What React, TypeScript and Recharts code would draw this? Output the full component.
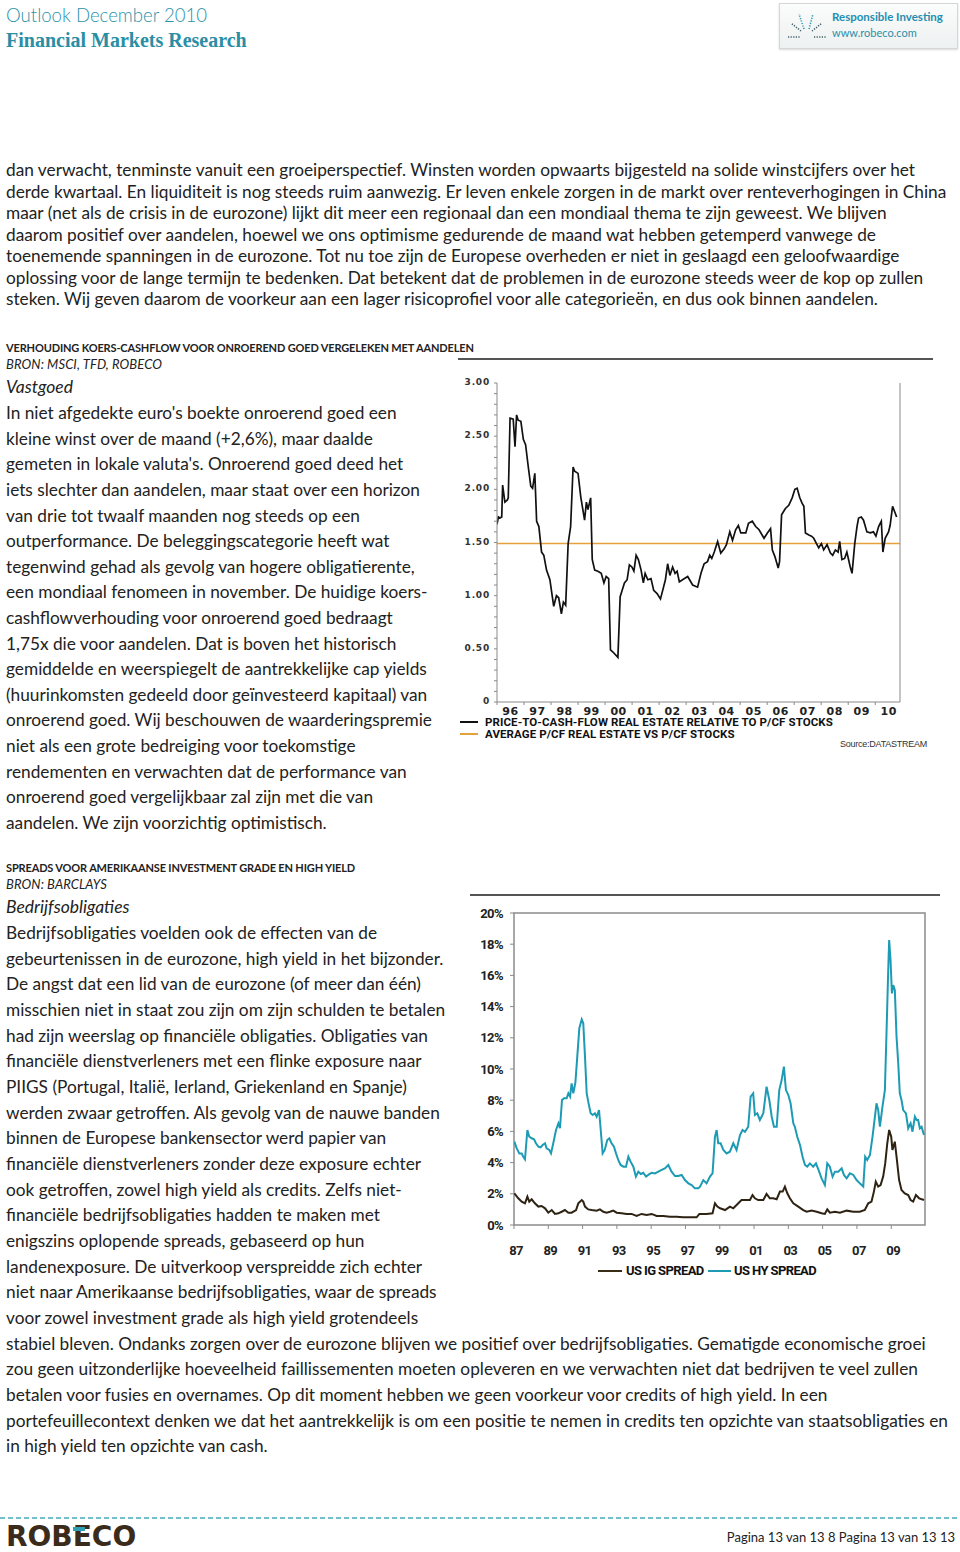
import React from "react";
import { LineChart, Line, XAxis, YAxis, ReferenceLine, ReferenceArea } from "recharts";

const TEAL = "#2b93a9";
const BODY = "Lato, 'Open Sans', sans-serif";
const COND = "Roboto, 'Noto Sans', sans-serif";
const INK = "#222";

// page text, one entry per printed line
const introLines = [
  "dan verwacht, tenminste vanuit een groeiperspectief. Winsten worden opwaarts bijgesteld na solide winstcijfers over het",
  "derde kwartaal. En liquiditeit is nog steeds ruim aanwezig. Er leven enkele zorgen in de markt over renteverhogingen in China",
  "maar (net als de crisis in de eurozone) lijkt dit meer een regionaal dan een mondiaal thema te zijn geweest. We blijven",
  "daarom positief over aandelen, hoewel we ons optimisme gedurende de maand wat hebben getemperd vanwege de",
  "toenemende spanningen in de eurozone. Tot nu toe zijn de Europese overheden er niet in geslaagd een geloofwaardige",
  "oplossing voor de lange termijn te bedenken. Dat betekent dat de problemen in de eurozone steeds weer de kop op zullen",
  "steken. Wij geven daarom de voorkeur aan een lager risicoprofiel voor alle categorieën, en dus ook binnen aandelen.",
];

const vastgoedLines = [
  "In niet afgedekte euro's boekte onroerend goed een",
  "kleine winst over de maand (+2,6%), maar daalde",
  "gemeten in lokale valuta's. Onroerend goed deed het",
  "iets slechter dan aandelen, maar staat over een horizon",
  "van drie tot twaalf maanden nog steeds op een",
  "outperformance. De beleggingscategorie heeft wat",
  "tegenwind gehad als gevolg van hogere obligatierente,",
  "een mondiaal fenomeen in november. De huidige koers-",
  "cashflowverhouding voor onroerend goed bedraagt",
  "1,75x die voor aandelen. Dat is boven het historisch",
  "gemiddelde en weerspiegelt de aantrekkelijke cap yields",
  "(huurinkomsten gedeeld door geïnvesteerd kapitaal) van",
  "onroerend goed. Wij beschouwen de waarderingspremie",
  "niet als een grote bedreiging voor toekomstige",
  "rendementen en verwachten dat de performance van",
  "onroerend goed vergelijkbaar zal zijn met die van",
  "aandelen. We zijn voorzichtig optimistisch.",
];

const bedrijfsLines = [
  "Bedrijfsobligaties voelden ook de effecten van de",
  "gebeurtenissen in de eurozone, high yield in het bijzonder.",
  "De angst dat een lid van de eurozone (of meer dan één)",
  "misschien niet in staat zou zijn om zijn schulden te betalen",
  "had zijn weerslag op financiële obligaties. Obligaties van",
  "financiële dienstverleners met een flinke exposure naar",
  "PIIGS (Portugal, Italië, Ierland, Griekenland en Spanje)",
  "werden zwaar getroffen. Als gevolg van de nauwe banden",
  "binnen de Europese bankensector werd papier van",
  "financiële dienstverleners zonder deze exposure echter",
  "ook getroffen, zowel high yield als credits. Zelfs niet-",
  "financiële bedrijfsobligaties hadden te maken met",
  "enigszins oplopende spreads, gebaseerd op hun",
  "landenexposure. De uitverkoop verspreidde zich echter",
  "niet naar Amerikaanse bedrijfsobligaties, waar de spreads",
  "voor zowel investment grade als high yield grotendeels",
  "stabiel bleven. Ondanks zorgen over de eurozone blijven we positief over bedrijfsobligaties. Gematigde economische groei",
  "zou geen uitzonderlijke hoeveelheid faillissementen moeten opleveren en we verwachten niet dat bedrijven te veel zullen",
  "betalen voor fusies en overnames. Op dit moment hebben we geen voorkeur voor credits of high yield. In een",
  "portefeuillecontext denken we dat het aantrekkelijk is om een positie te nemen in credits ten opzichte van staatsobligaties en",
  "in high yield ten opzichte van cash.",
];

// chart 1: P/CF real estate relative to P/CF stocks, x = months since Jan 1996
const reMonth = [
  0, 0.6, 1.3, 2.1, 2.5, 3.5, 4.6, 5.0, 5.8, 7.2,
  8.0, 8.7, 9.4, 10.6, 11.7, 12.7, 13.9, 15.0, 15.8, 16.8,
  17.6, 18.6, 19.8, 20.8, 22.0, 23.5, 24.5, 25.2, 26.4, 27.4,
  28.6, 29.5, 30.5, 31.6, 32.7, 33.8, 34.5, 36.0, 37.2, 38.9,
  39.7, 40.4, 41.6, 42.3, 43.4, 44.8, 46.3, 47.5, 48.5, 49.6,
  50.4, 51.5, 53.7, 54.7, 55.6, 56.6, 57.8, 58.8, 59.9, 60.8,
  61.8, 62.8, 64.0, 65.0, 65.8, 67.0, 68.4, 69.6, 71.1, 72.6,
  73.6, 74.8, 75.8, 76.8, 78.0, 79.1, 80.0, 81.0, 82.4, 84.7,
  86.9, 89.1, 90.6, 92.0, 93.5, 94.5, 95.4, 96.5, 98.0, 99.4,
  100.9, 101.9, 103.4, 104.6, 106.0, 107.2, 108.3, 110.5, 111.7, 113.4,
  114.9, 116.4, 118.6, 120.1, 121.5, 122.3, 123.4, 124.9, 125.5, 126.4,
  128.1, 129.6, 131.1, 132.3, 133.3, 134.5, 135.5, 136.3, 137.0, 138.5,
  139.7, 140.7, 141.9, 142.9, 144.1, 145.1, 146.6, 148.1, 149.1, 150.3,
  151.5, 152.2, 153.2, 154.4, 155.4, 156.9, 157.7, 158.9, 159.9, 160.6,
  161.8, 162.8, 164.3, 165.8, 167.2, 168.3, 169.5, 170.7, 171.4, 172.4,
  173.9, 174.6, 175.7, 176.8, 177.5,
];
const reRatio = [
  1.67, 1.74, 1.73, 1.74, 2.04, 1.88, 1.90, 1.92, 2.67, 2.66,
  2.40, 2.70, 2.65, 2.64, 2.47, 2.42, 2.21, 2.03, 2.01, 2.15,
  1.70, 1.65, 1.41, 1.38, 1.24, 1.15, 1.00, 0.90, 1.00, 0.98,
  0.83, 0.94, 0.91, 1.49, 1.65, 2.21, 2.17, 2.15, 1.93, 1.71,
  1.88, 1.81, 1.92, 1.34, 1.24, 1.23, 1.21, 1.12, 1.18, 1.16,
  0.49, 0.47, 0.42, 0.99, 1.05, 1.12, 1.15, 1.29, 1.27, 1.23,
  1.38, 1.34, 1.24, 1.12, 1.21, 1.15, 1.16, 1.05, 1.02, 0.97,
  1.05, 1.15, 1.30, 1.19, 1.27, 1.21, 1.23, 1.13, 1.15, 1.18,
  1.10, 1.08, 1.21, 1.30, 1.32, 1.38, 1.35, 1.41, 1.51, 1.40,
  1.44, 1.48, 1.60, 1.52, 1.62, 1.66, 1.59, 1.59, 1.68, 1.70,
  1.65, 1.62, 1.54, 1.59, 1.63, 1.43, 1.37, 1.26, 1.32, 1.76,
  1.82, 1.85, 1.92, 2.00, 2.01, 1.92, 1.87, 1.84, 1.59, 1.57,
  1.56, 1.54, 1.49, 1.45, 1.49, 1.43, 1.48, 1.40, 1.38, 1.43,
  1.41, 1.51, 1.34, 1.35, 1.41, 1.27, 1.21, 1.49, 1.65, 1.73,
  1.74, 1.71, 1.60, 1.59, 1.60, 1.56, 1.65, 1.70, 1.41, 1.54,
  1.60, 1.66, 1.84, 1.78, 1.74,
];
const reAverage = 1.49;
const reYearLabels = ["96", "97", "98", "99", "00", "01", "02", "03", "04", "05", "06", "07", "08", "09", "10"];
const reYearTicks = [0, 12, 24, 36, 48, 60, 72, 84, 96, 108, 120, 132, 144, 156, 168];

// chart 2: US spreads in %, x = decimal year
const hyYear = [
  1987.02, 1987.16, 1987.31, 1987.45, 1987.54, 1987.64, 1987.78, 1987.89, 1988.03, 1988.17,
  1988.28, 1988.42, 1988.55, 1988.67, 1988.81, 1988.90, 1989.06, 1989.16, 1989.29, 1989.45,
  1989.59, 1989.68, 1989.80, 1989.92, 1990.07, 1990.17, 1990.27, 1990.36, 1990.46, 1990.58,
  1990.69, 1990.81, 1990.95, 1991.04, 1991.14, 1991.24, 1991.35, 1991.47, 1991.59, 1991.72,
  1991.82, 1991.96, 1992.05, 1992.17, 1992.29, 1992.44, 1992.56, 1992.69, 1992.83, 1992.95,
  1993.08, 1993.22, 1993.38, 1993.53, 1993.67, 1993.80, 1993.96, 1994.11, 1994.25, 1994.39,
  1994.54, 1994.70, 1994.83, 1995.03, 1995.22, 1995.42, 1995.61, 1995.80, 1996.00, 1996.19,
  1996.39, 1996.58, 1996.78, 1996.97, 1997.17, 1997.36, 1997.55, 1997.75, 1997.85, 1998.04,
  1998.23, 1998.43, 1998.58, 1998.72, 1998.82, 1998.91, 1999.05, 1999.21, 1999.40, 1999.59,
  1999.79, 1999.98, 2000.18, 2000.33, 2000.47, 2000.66, 2000.80, 2000.95, 2001.05, 2001.19,
  2001.34, 2001.54, 2001.73, 2001.89, 2002.03, 2002.16, 2002.32, 2002.47, 2002.61, 2002.74,
  2002.86, 2003.00, 2003.13, 2003.29, 2003.38, 2003.52, 2003.68, 2003.83, 2003.97, 2004.10,
  2004.26, 2004.45, 2004.61, 2004.76, 2004.94, 2005.13, 2005.27, 2005.42, 2005.58, 2005.72,
  2005.91, 2006.11, 2006.24, 2006.40, 2006.59, 2006.79, 2006.98, 2007.17, 2007.37, 2007.48,
  2007.60, 2007.76, 2007.91, 2008.05, 2008.14, 2008.24, 2008.34, 2008.49, 2008.63, 2008.73,
  2008.82, 2008.88, 2008.96, 2009.04, 2009.12, 2009.21, 2009.31, 2009.41, 2009.50, 2009.60,
  2009.70, 2009.86, 2009.99, 2010.13, 2010.24, 2010.38, 2010.48, 2010.57, 2010.67, 2010.77,
  2010.91,
];
const hySpread = [
  5.34, 4.91, 4.59, 4.59, 4.38, 4.21, 6.09, 5.66, 5.56, 5.49,
  5.24, 5.02, 4.98, 5.13, 5.24, 4.91, 4.81, 4.59, 5.24, 6.09,
  6.52, 6.20, 8.01, 8.12, 8.12, 8.44, 8.23, 9.08, 8.44, 9.12,
  10.79, 12.61, 13.18, 12.93, 10.79, 8.44, 7.80, 7.16, 7.05, 7.16,
  6.94, 7.37, 6.20, 4.59, 4.81, 5.45, 5.56, 5.24, 5.02, 4.59,
  4.17, 3.85, 3.74, 3.74, 4.38, 4.06, 3.74, 3.10, 3.42, 3.27,
  3.35, 3.10, 3.21, 3.35, 3.31, 3.42, 3.53, 3.63, 3.85, 3.42,
  3.14, 3.14, 3.21, 2.88, 2.67, 2.56, 2.35, 2.35, 2.46, 2.88,
  2.67, 3.10, 3.31, 5.66, 6.09, 5.24, 5.24, 4.81, 4.59, 4.70,
  5.24, 4.81, 5.77, 6.09, 5.98, 6.30, 8.23, 8.44, 7.05, 7.16,
  6.73, 7.16, 8.87, 8.01, 6.94, 6.30, 6.30, 8.65, 9.29, 10.15,
  8.65, 8.33, 7.80, 6.52, 6.30, 5.66, 5.13, 4.38, 3.85, 3.74,
  3.95, 3.74, 3.95, 3.53, 2.99, 2.56, 3.95, 3.74, 3.10, 3.42,
  3.42, 3.63, 3.21, 2.99, 3.31, 3.21, 2.88, 2.67, 2.46, 4.38,
  4.17, 4.49, 5.66, 6.94, 7.80, 7.37, 6.30, 7.59, 8.65, 12.50,
  16.13, 18.27, 16.99, 14.85, 15.38, 15.06, 12.07, 10.36, 8.44, 8.01,
  7.37, 7.16, 6.20, 6.52, 5.98, 6.94, 6.73, 6.73, 6.20, 6.30,
  5.77,
];
const igYear = [
  1987.02, 1987.25, 1987.45, 1987.64, 1987.78, 1987.89, 1988.03, 1988.22, 1988.42, 1988.61,
  1988.81, 1989.00, 1989.20, 1989.39, 1989.59, 1989.78, 1989.97, 1990.17, 1990.36, 1990.62,
  1990.75, 1990.95, 1991.04, 1991.14, 1991.33, 1991.53, 1991.82, 1992.01, 1992.21, 1992.40,
  1992.60, 1992.79, 1992.99, 1993.28, 1993.57, 1993.86, 1994.15, 1994.44, 1994.74, 1995.03,
  1995.32, 1995.71, 1996.10, 1996.48, 1996.87, 1997.26, 1997.65, 1997.81, 1998.23, 1998.58,
  1998.72, 1998.86, 1999.02, 1999.31, 1999.59, 1999.79, 1999.98, 2000.27, 2000.56, 2000.76,
  2000.91, 2001.05, 2001.24, 2001.54, 2001.73, 2001.92, 2002.12, 2002.32, 2002.51, 2002.67,
  2002.80, 2002.94, 2003.09, 2003.29, 2003.58, 2003.87, 2004.07, 2004.36, 2004.65, 2004.94,
  2005.13, 2005.27, 2005.42, 2005.72, 2006.01, 2006.40, 2006.79, 2007.17, 2007.46, 2007.66,
  2007.85, 2007.99, 2008.10, 2008.24, 2008.38, 2008.53, 2008.65, 2008.77, 2008.88, 2009.00,
  2009.07, 2009.21, 2009.31, 2009.46, 2009.60, 2009.79, 2009.99, 2010.13, 2010.28, 2010.44,
  2010.63, 2010.91,
];
const igSpread = [
  2.03, 1.71, 1.50, 1.39, 1.82, 1.50, 1.65, 1.39, 1.18, 1.22,
  1.07, 0.79, 0.96, 0.71, 0.75, 0.85, 0.96, 0.79, 0.79, 0.96,
  1.39, 1.60, 1.50, 1.18, 1.00, 0.96, 0.92, 1.00, 0.85, 0.79,
  0.85, 0.92, 0.79, 0.75, 0.71, 0.71, 0.58, 0.71, 0.64, 0.71,
  0.58, 0.58, 0.53, 0.53, 0.49, 0.49, 0.49, 0.71, 0.71, 0.75,
  1.39, 1.18, 1.07, 0.96, 1.18, 1.07, 1.28, 1.60, 1.60, 1.60,
  1.92, 1.71, 1.60, 1.60, 1.99, 1.71, 1.71, 1.65, 2.14, 2.14,
  2.46, 2.03, 1.71, 1.39, 1.18, 0.96, 0.85, 0.92, 0.85, 0.75,
  0.71, 1.00, 0.79, 0.85, 0.79, 0.92, 0.85, 0.85, 0.96, 1.39,
  1.50, 2.14, 2.78, 2.46, 2.56, 3.10, 3.95, 5.24, 6.09, 5.66,
  4.81, 5.34, 4.38, 2.88, 2.24, 2.03, 1.92, 1.60, 1.50, 1.92,
  1.71, 1.60,
];
const spreadYearTicks = [1987, 1989, 1991, 1993, 1995, 1997, 1999, 2001, 2003, 2005, 2007, 2009];
const spreadPctTicks = [0, 2, 4, 6, 8, 10, 12, 14, 16, 18, 20];

const reData = reMonth.map((m, i) => ({ m, v: reRatio[i] }));
const hyData = hyYear.map((x, i) => ({ x, v: hySpread[i] }));
const igData = igYear.map((x, i) => ({ x, v: igSpread[i] }));
const reYTicks = Array.from({ length: 31 }, (_, i) => i / 10);

const AXIS_FONT = "'DejaVu Sans', Verdana, sans-serif";

function ReYTick({ x, y, payload, side }: any) {
  const v = payload.value;
  const major = Math.abs(v * 2 - Math.round(v * 2)) < 1e-6;
  const dir = side === "left" ? -1 : 1;
  return (
    <g>
      <line x1={x} x2={x + dir * 3} y1={y} y2={y} stroke="#8a8a8a" />
      {major && (
        <text
          x={side === "left" ? x - 7 : x + 28}
          y={y - 1}
          textAnchor="end"
          dominantBaseline="central"
          fontFamily={AXIS_FONT}
          fontSize={9}
          fontWeight="bold"
          letterSpacing={0.8}
          fill="#333"
        >
          {v === 0 ? "0" : v.toFixed(2)}
        </text>
      )}
    </g>
  );
}

function ReXTick({ x, y, payload }: any) {
  const label = reYearLabels[Math.round(payload.value / 12)];
  return (
    <g>
      <line x1={x} x2={x} y1={y} y2={y + 3} stroke="#8a8a8a" />
      <text x={x + 13.5} y={y + 9} textAnchor="middle" dominantBaseline="central" fontFamily={AXIS_FONT} fontSize={11} fontWeight="bold" letterSpacing={0.5} fill="#222">
        {label}
      </text>
    </g>
  );
}

function SpreadYTick({ x, y, payload }: any) {
  return (
    <g>
      <line x1={x - 4} x2={x} y1={y} y2={y} stroke="#8a8a8a" />
      <text x={x - 11} y={y} textAnchor="end" dominantBaseline="central" fontFamily={COND} fontSize={13} fontWeight="bold" letterSpacing={-0.6} fill="#222">
        {payload.value}%
      </text>
    </g>
  );
}

function SpreadXTick({ x, y, payload }: any) {
  return (
    <g>
      <line x1={x} x2={x} y1={y} y2={y + 4} stroke="#8a8a8a" />
      <text x={x + 2} y={y + 25} textAnchor="middle" dominantBaseline="central" fontFamily={COND} fontSize={13} fontWeight="bold" letterSpacing={-0.6} fill="#222">
        {String(payload.value).slice(2)}
      </text>
    </g>
  );
}

function TextBlock({ lines, top, lh, size = 17.25 }: { lines: string[]; top: number; lh: number; size?: number }) {
  return (
    <div style={{ position: "absolute", left: 6, top: top - lh / 2, fontFamily: BODY, fontSize: size, lineHeight: `${lh}px`, color: INK, whiteSpace: "nowrap" }}>
      {lines.map((l, i) => (
        <div key={i}>{l}</div>
      ))}
    </div>
  );
}

function Label({ left, y, children, style }: any) {
  return (
    <div style={{ position: "absolute", left, top: y - 10, height: 20, lineHeight: "20px", whiteSpace: "nowrap", ...style }}>{children}</div>
  );
}

function Sunburst() {
  const dash = { strokeDasharray: "1.2 1.4", strokeWidth: 1.6 };
  return (
    <svg width={46} height={36} style={{ position: "absolute", left: 4, top: 5 }}>
      <line x1={4} y1={28} x2={16} y2={28} stroke="#3f5c66" {...dash} />
      <line x1={30} y1={28} x2={42} y2={28} stroke="#3f5c66" {...dash} />
      <line x1={17} y1={22} x2={7} y2={14} stroke="#3f5c66" {...dash} />
      <line x1={20} y1={20} x2={15} y2={5} stroke="#2f9bb3" {...dash} />
      <line x1={25} y1={20} x2={29} y2={5} stroke="#2f9bb3" {...dash} />
      <line x1={28} y1={22} x2={38} y2={14} stroke="#3f5c66" {...dash} />
    </svg>
  );
}

export default function App() {
  return (
    <div style={{ position: "absolute", left: 0, top: 0, width: 960, height: 1552, background: "#fff", overflow: "hidden" }}>
      {/* header */}
      <Label left={6} y={15} style={{ fontFamily: BODY, fontSize: 18.6, fontWeight: 300, color: TEAL }}>
        Outlook December 2010
      </Label>
      <Label left={6} y={40} style={{ fontFamily: "'Liberation Serif', 'DejaVu Serif', serif", fontSize: 20, fontWeight: "bold", color: "#2a8ea5" }}>
        Financial Markets Research
      </Label>
      <div style={{ position: "absolute", left: 779, top: 3, width: 177, height: 44, border: "1px solid #d3d7d8", background: "linear-gradient(#fbfcfc, #eef1f1)", boxShadow: "0 1px 2px rgba(0,0,0,0.15)" }}>
        <Sunburst />
        <div style={{ position: "absolute", left: 52, top: 6, fontFamily: BODY, fontSize: 11.5, fontWeight: 700, color: "#1f8fb1", whiteSpace: "nowrap" }}>Responsible Investing</div>
        <div style={{ position: "absolute", left: 52, top: 22, fontFamily: BODY, fontSize: 11, color: "#2a8fa8", whiteSpace: "nowrap" }}>www.robeco.com</div>
      </div>

      <TextBlock lines={introLines} top={170} lh={21.5} />

      {/* section 1 */}
      <Label left={6} y={348} style={{ fontFamily: BODY, fontSize: 11, fontWeight: 700, letterSpacing: -0.15, color: INK }}>
        VERHOUDING KOERS-CASHFLOW VOOR ONROEREND GOED VERGELEKEN MET AANDELEN
      </Label>
      <Label left={6} y={364} style={{ fontFamily: BODY, fontSize: 13, fontStyle: "italic", letterSpacing: 0.1, color: INK }}>
        BRON: MSCI, TFD, ROBECO
      </Label>
      <Label left={6} y={387} style={{ fontFamily: BODY, fontSize: 17.5, fontStyle: "italic", color: INK }}>
        Vastgoed
      </Label>
      <TextBlock lines={vastgoedLines} top={413} lh={25.6} />

      <div style={{ position: "absolute", left: 458, top: 358, width: 475, height: 1.5, background: "#555" }} />
      <div style={{ position: "absolute", left: 440, top: 373 }}>
        <LineChart width={500} height={350} data={reData} margin={{ top: 10, right: 0, bottom: 0, left: 0 }}>
          <XAxis
            dataKey="m"
            type="number"
            domain={[0, 179]}
            ticks={reYearTicks}
            interval={0}
            allowDataOverflow
            height={21}
            tickSize={0}
            tickMargin={0}
            tickLine={false}
            axisLine={{ stroke: "#8a8a8a" }}
            tick={(p: any) => <ReXTick {...p} />}
          />
          <YAxis
            yAxisId="l"
            type="number"
            domain={[0, 3]}
            ticks={reYTicks}
            interval={0}
            width={57}
            tickSize={0}
            tickMargin={0}
            tickLine={false}
            axisLine={{ stroke: "#8a8a8a" }}
            tick={(p: any) => <ReYTick {...p} side="left" />}
          />
          <YAxis
            yAxisId="r"
            orientation="right"
            type="number"
            domain={[0, 3]}
            ticks={reYTicks}
            interval={0}
            width={40}
            tickSize={0}
            tickMargin={0}
            tickLine={false}
            axisLine={{ stroke: "#8a8a8a" }}
            tick={(p: any) => <ReYTick {...p} side="right" />}
          />
          <ReferenceLine yAxisId="l" y={reAverage} stroke="#e6a23a" strokeWidth={1.6} />
          <Line yAxisId="l" type="linear" dataKey="v" stroke="#111" strokeWidth={1.7} dot={false} isAnimationActive={false} />
        </LineChart>
      </div>
      <div style={{ position: "absolute", left: 460, top: 721, width: 18, height: 2, background: "#111" }} />
      <div style={{ position: "absolute", left: 460, top: 733, width: 18, height: 2, background: "#e6a23a" }} />
      <Label left={485} y={722} style={{ fontFamily: COND, fontSize: 11.5, fontWeight: 700, letterSpacing: 0.1, color: "#111" }}>
        PRICE-TO-CASH-FLOW REAL ESTATE RELATIVE TO P/CF STOCKS
      </Label>
      <Label left={485} y={734} style={{ fontFamily: COND, fontSize: 11.5, fontWeight: 700, letterSpacing: 0.1, color: "#111" }}>
        AVERAGE P/CF REAL ESTATE VS P/CF STOCKS
      </Label>
      <div style={{ position: "absolute", right: 33, top: 739, fontFamily: "'Liberation Sans', Arial, sans-serif", fontSize: 9, letterSpacing: -0.25, color: "#333", whiteSpace: "nowrap" }}>
        Source:DATASTREAM
      </div>

      {/* section 2 */}
      <Label left={6} y={868} style={{ fontFamily: BODY, fontSize: 11, fontWeight: 700, letterSpacing: -0.15, color: INK }}>
        SPREADS VOOR AMERIKAANSE INVESTMENT GRADE EN HIGH YIELD
      </Label>
      <Label left={6} y={884} style={{ fontFamily: BODY, fontSize: 13, fontStyle: "italic", letterSpacing: 0.1, color: INK }}>
        BRON: BARCLAYS
      </Label>
      <Label left={6} y={907} style={{ fontFamily: BODY, fontSize: 17.5, fontStyle: "italic", color: INK }}>
        Bedrijfsobligaties
      </Label>
      <TextBlock lines={bedrijfsLines} top={933} lh={25.65} />

      <div style={{ position: "absolute", left: 470, top: 894, width: 470, height: 1.5, background: "#555" }} />
      <div style={{ position: "absolute", left: 460, top: 903 }}>
        <LineChart width={480} height={357} margin={{ top: 10, right: 15, bottom: 0, left: 0 }}>
          <XAxis
            dataKey="x"
            type="number"
            domain={[1987, 2010.97]}
            ticks={spreadYearTicks}
            interval={0}
            allowDataOverflow
            height={35}
            tickSize={0}
            tickMargin={0}
            tickLine={false}
            axisLine={false}
            tick={(p: any) => <SpreadXTick {...p} />}
          />
          <YAxis
            type="number"
            domain={[0, 20]}
            ticks={spreadPctTicks}
            interval={0}
            width={54}
            tickSize={0}
            tickMargin={0}
            tickLine={false}
            axisLine={false}
            tick={(p: any) => <SpreadYTick {...p} />}
          />
          <ReferenceArea x1={1987} x2={2010.97} y1={0} y2={20} fill="none" stroke="#8c8c8c" strokeWidth={1.5} />
          <Line data={hyData} type="linear" dataKey="v" stroke="#1e9bb4" strokeWidth={2} dot={false} isAnimationActive={false} />
          <Line data={igData} type="linear" dataKey="v" stroke="#2e2313" strokeWidth={2} dot={false} isAnimationActive={false} />
        </LineChart>
      </div>
      <div style={{ position: "absolute", left: 598, top: 1269.5, width: 24, height: 2.5, background: "#3a2d18" }} />
      <div style={{ position: "absolute", left: 708, top: 1269.5, width: 23, height: 2.5, background: "#1e9bb4" }} />
      <Label left={626} y={1271} style={{ fontFamily: COND, fontSize: 13, fontWeight: 700, letterSpacing: -0.6, color: "#111" }}>
        US IG SPREAD
      </Label>
      <Label left={734} y={1271} style={{ fontFamily: COND, fontSize: 13, fontWeight: 700, letterSpacing: -0.6, color: "#111" }}>
        US HY SPREAD
      </Label>

      {/* footer */}
      <svg width={960} height={4} style={{ position: "absolute", left: 0, top: 1516 }}>
        <line x1={0} y1={2} x2={960} y2={2} stroke="#73bfcb" strokeWidth={2} strokeDasharray="5 3" />
      </svg>
      <Label left={6} y={1537} style={{ fontFamily: "'DejaVu Sans', sans-serif", fontSize: 28, fontWeight: 700, color: "#3b2b1a", height: 28, lineHeight: "28px", top: 1523 }}>
        ROBECO
      </Label>
      <div style={{ position: "absolute", left: 73, top: 1527, width: 12, height: 4, background: "#2f9fb3" }} />
      <div style={{ position: "absolute", right: 5, top: 1529, fontFamily: BODY, fontSize: 13, color: INK, whiteSpace: "nowrap" }}>
        Pagina 13 van 13 8 Pagina 13 van 13 13
      </div>
    </div>
  );
}
